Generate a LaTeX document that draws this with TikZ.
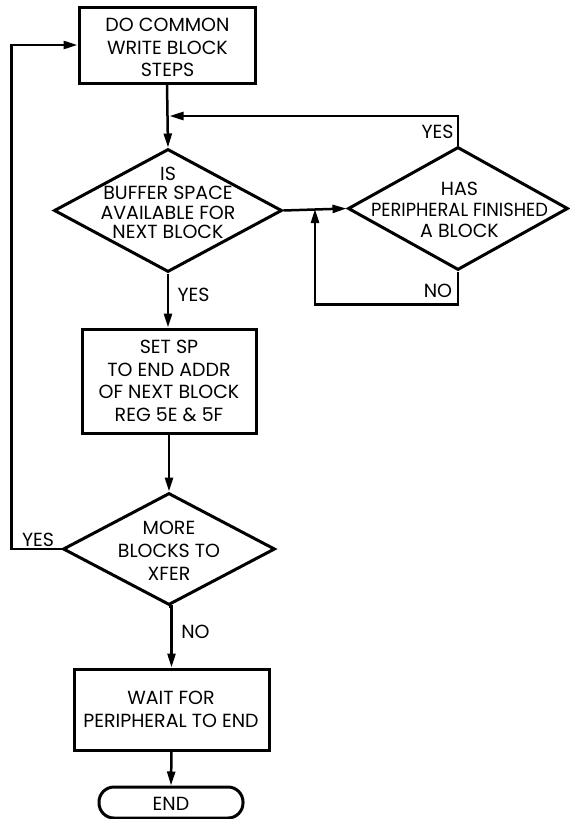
\documentclass[tikz,border=0pt]{standalone}
\usepackage{fontspec}
\usepackage{graphicx}
\setmainfont{Poppins}
\usetikzlibrary{shapes.geometric,arrows.meta}
\tikzset{
  proc/.style={draw, line width=3pt, rectangle, inner sep=0pt},
  dec/.style={draw, line width=3pt, diamond, inner sep=0pt},
  term/.style={draw, line width=3pt, rectangle, rounded corners=15pt, inner sep=0pt},
  txt/.style={align=center, inner sep=0pt},
  lbl/.style={inner sep=0pt, font=\fontsize{19}{20}\selectfont},
  flow/.style={line width=2.5pt, -{Triangle[length=14pt,width=8pt]}},
  conn/.style={line width=2.5pt}
}
\begin{document}
\begin{tikzpicture}[x=1pt,y=-1pt]
\useasboundingbox (0,0) rectangle (570,819);
% shapes
\node[proc, minimum width=176pt, minimum height=76pt] (b1) at (167,45) {};
\node[txt, font=\fontsize{19}{22.5}\selectfont] (b1t) at (167.5,47.5) {DO COMMON\\WRITE BLOCK\\STEPS};
\node[dec, minimum width=228pt, minimum height=123pt] (d1) at (168,210.5) {};
\node[txt, font=\fontsize{19}{19.5}\selectfont] (d1t) at (168,203) {IS\\BUFFER SPACE\\AVAILABLE FOR\\NEXT BLOCK};
\node[dec, minimum width=220pt, minimum height=123pt] (d2) at (458,208.5) {};
\node[txt, font=\fontsize{19}{21}\selectfont] (d2t) at (459.5,209.5) {HAS\\\scalebox{0.94}[1]{PERIPHERAL FINISHED}\\A BLOCK};
\node[proc, minimum width=174pt, minimum height=104pt] (b2) at (169,381) {};
\node[txt, font=\fontsize{19}{22.5}\selectfont] (b2t) at (169,381) {SET SP\\TO END ADDR\\OF NEXT BLOCK\\REG 5E \& 5F};
\node[dec, minimum width=212pt, minimum height=112pt] (d3) at (169,549) {};
\node[txt, font=\fontsize{19}{23}\selectfont] (d3t) at (169,551) {MORE\\BLOCKS TO\\XFER};
\node[proc, minimum width=195pt, minimum height=81pt] (b3) at (171.5,709.5) {};
\node[txt, font=\fontsize{19}{23}\selectfont] (b3t) at (171,709) {WAIT FOR\\PERIPHERAL TO END};
\node[term, minimum width=144pt, minimum height=31pt] (e) at (171,802.5) {};
\node[txt, font=\fontsize{19}{20}\selectfont] (et) at (171,804) {END};
% junction coordinates
\coordinate (j1) at (169.5,116);
\coordinate (j2) at (315,209);
% connectors
\draw[flow] (b1.south) -- (d1.north);
\draw[flow] (d2.north) |- (j1);
\draw[flow] (d1.east) -- (d2.west);
\draw[flow] (d2.south) -- ++(0,33) -| (j2);
\draw[flow] (d1.south) -- (d1.south |- b2.north);
\draw[flow] (b2.south) -- (d3.north);
\draw[flow] (d3.west) -- ++(-50,0) |- (b1.west);
\draw[flow] (d3.south) -- (d3.south -| b3.north) -- (b3.north);
\draw[flow] (b3.south) -- (e.north);
% labels
\node[lbl] (l1) at (437.5,132) {YES};
\node[lbl] (l2) at (438,291) {NO};
\node[lbl] (l3) at (193.5,295) {YES};
\node[lbl] (l4) at (38,540) {YES};
\node[lbl] (l5) at (195.5,632) {NO};
\end{tikzpicture}
\end{document}
